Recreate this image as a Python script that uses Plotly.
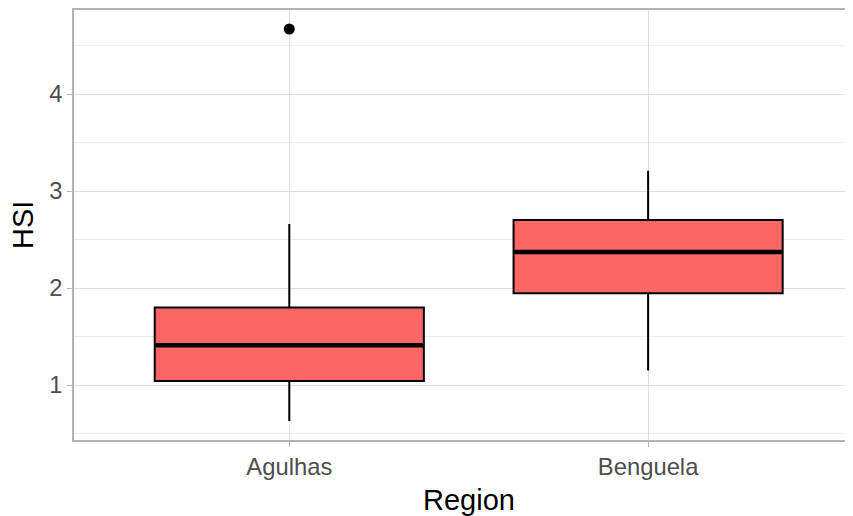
import plotly.graph_objects as go

regions = ["Agulhas", "Benguela"]
lower_whisker = [0.63, 1.15]
q1 = [1.04, 1.945]
median = [1.41, 2.37]
q3 = [1.80, 2.70]
upper_whisker = [2.66, 3.21]
outlier_region = ["Agulhas"]
outlier_hsi = [4.67]

y_ticks = [1, 2, 3, 4]
y_tick_labels = ["1", "2", "3", "4"]

FILL = "#FF6666"
FONT = "Liberation Sans, Arial, sans-serif"

fig = go.Figure()

# boxes
fig.add_trace(go.Box(
    x=regions, q1=q1, median=median, q3=q3,
    lowerfence=lower_whisker, upperfence=upper_whisker,
    fillcolor=FILL, line=dict(color="black", width=2),
    width=0.75, whiskerwidth=0, boxpoints=False,
    showlegend=False, hoverinfo="skip",
))
# thick median line (degenerate box)
fig.add_trace(go.Box(
    x=regions, q1=median, median=median, q3=median,
    lowerfence=median, upperfence=median,
    fillcolor="black", line=dict(color="black", width=4.5),
    width=0.745, whiskerwidth=0, boxpoints=False,
    showlegend=False, hoverinfo="skip",
))
# outlier
fig.add_trace(go.Scatter(
    x=outlier_region, y=outlier_hsi, mode="markers",
    marker=dict(color="black", size=11),
    showlegend=False, hoverinfo="skip",
))

fig.update_layout(
    width=845, height=508,
    margin=dict(l=66, r=0, t=2, b=76),
    plot_bgcolor="white", paper_bgcolor="white",
    font=dict(family=FONT, color="#4D4D4D", size=23.8),
    boxmode="overlay",
    annotations=[
        dict(text="HSI", x=0, xref="paper", y=0.5, yref="paper",
             xanchor="center", yanchor="middle", textangle=-90,
             xshift=-51, showarrow=False,
             font=dict(size=29, color="black", family=FONT)),
        dict(text="Region", x=0.5, xref="x", y=0, yref="paper",
             xanchor="center", yanchor="middle", yshift=-60,
             showarrow=False,
             font=dict(size=29, color="black", family=FONT)),
    ],
)

fig.update_xaxes(
    type="category", categoryorder="array", categoryarray=regions,
    range=[-0.6, 1.571],
    showgrid=True, gridcolor="#DEDEDE", gridwidth=1.3,
    showline=True, linecolor="#B3B3B3", linewidth=1.5, mirror=True,
    ticks="outside", ticklen=5, tickcolor="#B3B3B3", tickwidth=1.3,
    tickfont=dict(size=23.8, color="#4D4D4D", family=FONT),
    zeroline=False,
)
fig.update_yaxes(
    range=[0.433, 4.866],
    tickvals=y_ticks, ticktext=y_tick_labels,
    showgrid=True, gridcolor="#DEDEDE", gridwidth=1.3,
    minor=dict(dtick=0.5, tick0=0.5, showgrid=True, gridcolor="#EDEDED", gridwidth=1, ticks=""),
    showline=True, linecolor="#B3B3B3", linewidth=1.5, mirror=False,
    ticks="outside", ticklen=5, tickcolor="#B3B3B3", tickwidth=1.3,
    tickfont=dict(size=23.8, color="#4D4D4D", family=FONT),
    zeroline=False,
)

fig.write_html("out.html")
